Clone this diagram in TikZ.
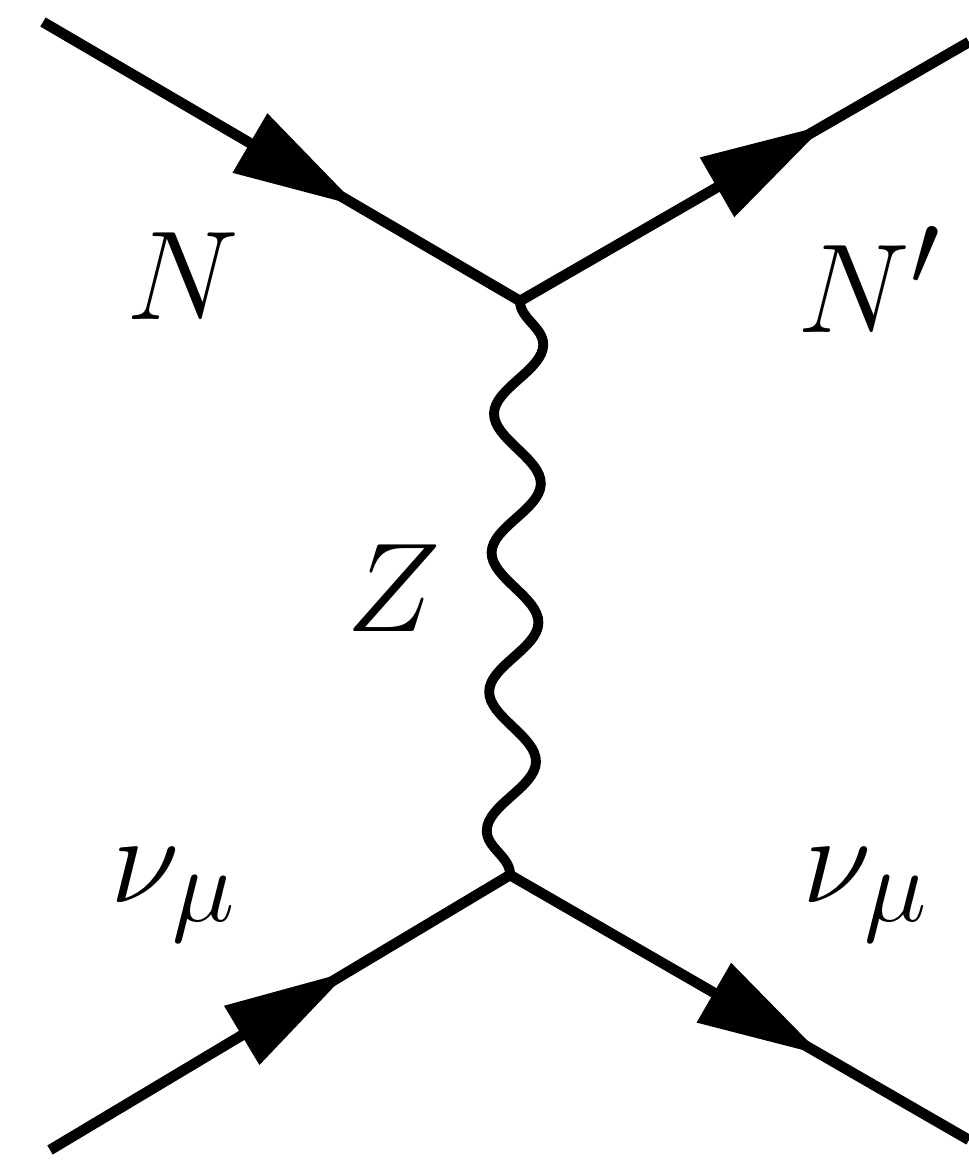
\documentclass[tikz,border=0pt]{standalone}
\usetikzlibrary{decorations.markings,decorations.pathmorphing,arrows.meta}
\tikzset{
  fermion/.style={line width=3pt,postaction={decorate},
    decoration={markings,mark=at position #1 with {\arrow{Triangle[length=1.25cm,width=0.66cm]}}}},
  fermion/.default=0.66,
  boson/.style={line width=2.8pt,decorate,
    decoration={snake,segment length=1.39cm,amplitude=0.24cm}},
  plabel/.style={anchor=base,font=\Huge,scale=1.45},
}
\begin{document}
\begin{tikzpicture}
  \useasboundingbox (0,0) rectangle (9.69,11.62);
  % vertices and external legs
  \coordinate (vt) at (5.20,8.61);
  \coordinate (vb) at (5.10,2.87);
  \coordinate (nin) at (0.43,11.40);
  \coordinate (nout) at (9.69,11.20);
  \coordinate (nuin) at (0.50,0.12);
  \coordinate (nuout) at (9.69,0.22);
  \draw[fermion=0.66] (nin) -- (vt);
  \draw[fermion=0.68] (vt) -- (nout);
  \draw[fermion=0.65] (nuin) -- (vb);
  \draw[fermion=0.68] (vb) -- (nuout);
  \draw[boson] (vt) -- (vb);
  % labels
  \node[plabel] (lN) at (1.83,8.42) {$N$};
  \node[plabel] (lNp) at (8.70,8.30) {$N'$};
  \node[plabel] (lZ) at (3.94,5.30) {$Z$};
  \node[plabel] (lnuin) at (1.74,2.60) {$\nu_\mu$};
  \node[plabel] (lnuout) at (8.66,2.60) {$\nu_\mu$};
\end{tikzpicture}
\end{document}
